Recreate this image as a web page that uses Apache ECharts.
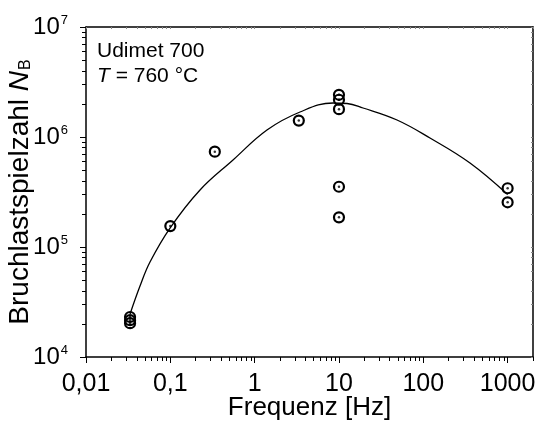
<!DOCTYPE html>
<html>
<head>
<meta charset="utf-8">
<script src="https://cdn.jsdelivr.net/npm/echarts@6/dist/echarts.min.js"></script>
<style>
html,body{margin:0;padding:0;background:#fff;}
#chart{width:539px;height:421px;}
</style>
</head>
<body>
<div id="chart"></div>
<script>
// ---- data ----
const pointFreq = [0.0333, 0.0333, 0.0333, 0.1, 0.337, 3.34, 10, 10, 10, 10, 10, 1000, 1000];
const pointCycles = [20300, 21600, 23100, 155000, 736000, 1410000, 186000, 353000, 1790000, 2180000, 2420000, 255000, 342000];

const curveFreq = [0.0333, 0.0437, 0.0574, 0.0992, 0.225, 0.554, 1.40, 3.45, 8.5, 12.45, 19.3, 48.8, 120, 358, 1000];
const curveCycles = [24600, 44200, 73100, 148800, 330000, 618000, 1158000, 1688000, 2037000, 2016000, 1835000, 1427000, 979000, 580000, 300000];

const xTickValues = [0.01, 0.1, 1, 10, 100, 1000];
const xTickLabels = ['0,01', '0,1', '1', '10', '100', '1000'];
const yTickValues = [1e4, 1e5, 1e6, 1e7];
const yTickExps = ['4', '5', '6', '7'];

const xMin = 0.01, xMax = 2000, yMin = 1e4, yMax = 1e7;

function minorTicks(decades, maxV) {
  const out = [];
  decades.forEach(d => { for (let m = 2; m <= 9; m++) { const v = m * d; if (v <= maxV * 1.0001) out.push(v); } });
  return out;
}
const xMinor = minorTicks(xTickValues, xMax);
const yMinor = minorTicks(yTickValues.slice(0, 3), yMax);

function idxOf(arr, v) {
  return arr.findIndex(t => Math.abs(Math.log10(t) - Math.log10(v)) < 1e-6);
}

const FONT = 'Liberation Sans, Arial, sans-serif';

const chart = echarts.init(document.getElementById('chart'), null, {renderer: 'canvas'});

const baseX = {type: 'log', logBase: 10, min: xMin, max: xMax, gridIndex: 0, splitLine: {show: false}};
const baseY = {type: 'log', logBase: 10, min: yMin, max: yMax, gridIndex: 0, splitLine: {show: false}};

const option = {
  backgroundColor: '#fff',
  animation: false,
  grid: {left: 86, right: 6, top: 27, bottom: 64, containLabel: false, outerBoundsMode: 'none'},
  xAxis: [
    Object.assign({}, baseX, {
      position: 'bottom',
      name: 'Frequenz [Hz]',
      nameLocation: 'middle',
      nameGap: 38,
      nameMoveOverlap: false,
      nameTextStyle: {fontFamily: FONT, fontSize: 26, color: '#000'},
      axisLine: {show: true, lineStyle: {color: '#000', width: 1.5}},
      axisTick: {show: true, inside: false, length: 6, customValues: xTickValues, lineStyle: {color: '#000', width: 1}},
      minorTick: {show: false},
      axisLabel: {
        show: true, margin: 15, customValues: xTickValues,
        fontFamily: FONT, fontSize: 25, color: '#000',
        formatter: v => { const i = idxOf(xTickValues, v); return i >= 0 ? xTickLabels[i] : ''; }
      }
    }),
    Object.assign({}, baseX, {
      position: 'bottom',
      axisLine: {show: false},
      axisTick: {show: true, inside: false, length: 4, customValues: xMinor, lineStyle: {color: '#000', width: 1}},
      axisLabel: {show: false}
    }),
    Object.assign({}, baseX, {
      position: 'top',
      axisLine: {show: true, lineStyle: {color: '#000', width: 1.5}},
      axisTick: {show: true, inside: true, length: 2, customValues: xTickValues.concat(xMinor), lineStyle: {color: '#888', width: 1}},
      axisLabel: {show: false}
    })
  ],
  yAxis: [
    Object.assign({}, baseY, {
      position: 'left',
      name: '{a|Bruchlastspielzahl }{i|N}{s|B}',
      nameLocation: 'middle',
      nameGap: 52,
      nameMoveOverlap: false,
      nameTextStyle: {
        fontFamily: FONT, fontSize: 28, color: '#000',
        rich: {
          a: {fontFamily: FONT, fontSize: 28, color: '#000', lineHeight: 32, verticalAlign: 'bottom'},
          i: {fontFamily: FONT, fontSize: 28, fontStyle: 'italic', color: '#000', lineHeight: 32, verticalAlign: 'bottom'},
          s: {fontFamily: FONT, fontSize: 16, color: '#000', lineHeight: 30, verticalAlign: 'bottom', padding: [0, 0, 0, 1]}
        }
      },
      axisLine: {show: true, lineStyle: {color: '#000', width: 1.5}},
      axisTick: {show: true, inside: false, length: 6, customValues: yTickValues, lineStyle: {color: '#000', width: 1}},
      axisLabel: {
        show: true, margin: 18, customValues: yTickValues,
        fontFamily: FONT, fontSize: 24, color: '#000',
        formatter: v => { const i = idxOf(yTickValues, v); return i >= 0 ? '{b|10}{s|' + yTickExps[i] + '}' : ''; },
        rich: {
          b: {fontFamily: FONT, fontSize: 24, color: '#000', lineHeight: 26},
          s: {fontFamily: FONT, fontSize: 13, color: '#000', lineHeight: 13, verticalAlign: 'top', padding: [0, 0, 0, 1]}
        }
      }
    }),
    Object.assign({}, baseY, {
      position: 'left',
      axisLine: {show: false},
      axisTick: {show: true, inside: false, length: 4, customValues: yMinor, lineStyle: {color: '#000', width: 1}},
      axisLabel: {show: false}
    }),
    Object.assign({}, baseY, {
      position: 'right',
      axisLine: {show: true, lineStyle: {color: '#000', width: 1.5}},
      axisTick: {show: true, inside: true, length: 2, customValues: yTickValues.concat(yMinor), lineStyle: {color: '#888', width: 1}},
      axisLabel: {show: false}
    })
  ],
  graphic: [
    {type: 'text', left: 97, top: 41, style: {text: 'Udimet 700', font: '21px ' + FONT, fill: '#000'}},
    {type: 'text', left: 97, top: 66, style: {
      text: '{i|T} = 760 °C', font: '21px ' + FONT, fill: '#000',
      rich: {i: {fontFamily: FONT, fontSize: 21, fontStyle: 'italic', fill: '#000'}}
    }}
  ],
  series: [
    {
      type: 'line', xAxisIndex: 0, yAxisIndex: 0,
      data: curveFreq.map((f, i) => [f, curveCycles[i]]),
      smooth: 0.4, showSymbol: false, symbol: 'none',
      lineStyle: {color: '#000', width: 1.3},
      silent: true, z: 2
    },
    {
      type: 'scatter', xAxisIndex: 0, yAxisIndex: 0,
      data: pointFreq.map((f, i) => [f, pointCycles[i]]),
      symbol: 'circle', symbolSize: 10,
      itemStyle: {color: 'rgba(255,255,255,0)', borderColor: '#000', borderWidth: 2.2, opacity: 1},
      z: 3
    },
    {
      type: 'scatter', xAxisIndex: 0, yAxisIndex: 0,
      data: pointFreq.map((f, i) => [f, pointCycles[i]]),
      symbol: 'circle', symbolSize: 2.5,
      itemStyle: {color: '#000'},
      z: 4
    }
  ]
};
chart.setOption(option);
</script>
</body>
</html>
